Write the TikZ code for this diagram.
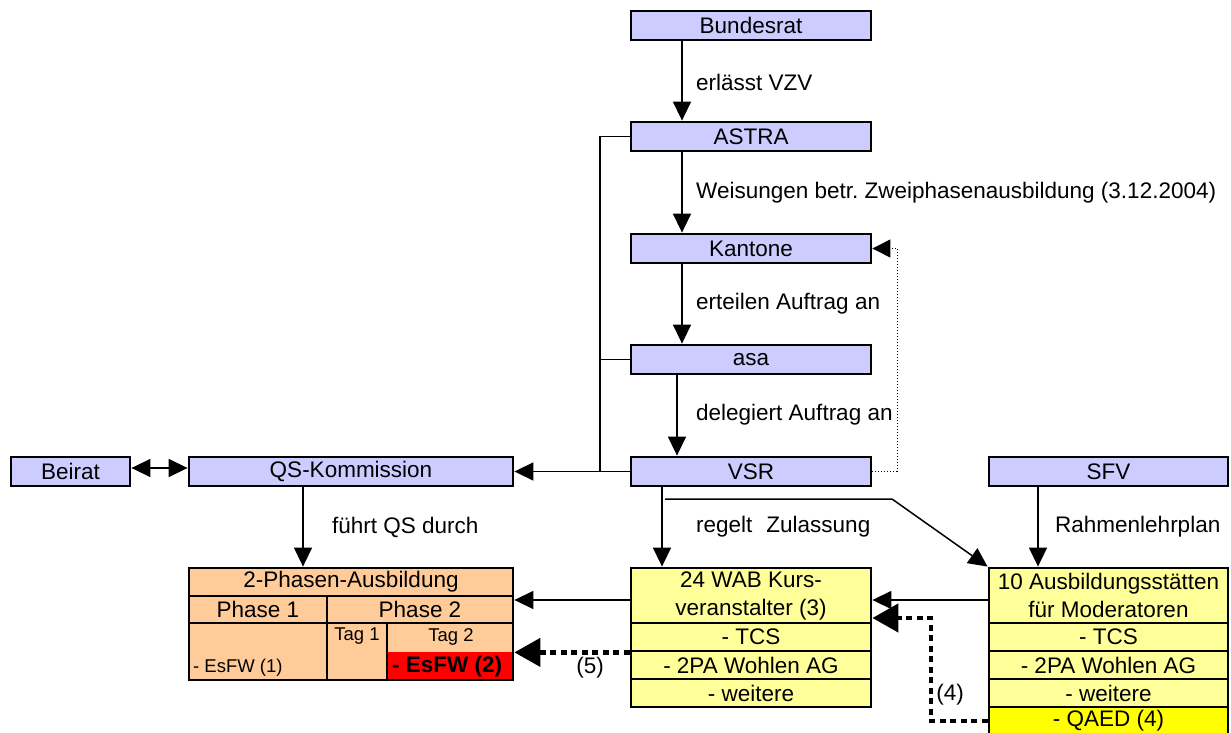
\documentclass[tikz,border=0pt]{standalone}
\usepackage{fontspec}
\setmainfont{Liberation Sans}
\usetikzlibrary{arrows.meta}
\definecolor{lav}{HTML}{CCCCFF}
\definecolor{org}{HTML}{FFCC99}
\definecolor{yel}{HTML}{FFFF99}
\definecolor{yelq}{HTML}{FFFF00}
\definecolor{redc}{HTML}{FF0000}
\begin{document}
\frenchspacing
\begin{tikzpicture}[x=1pt,y=-1pt,
  bigfont/.style={font=\fontsize{22.5}{28}\selectfont},
  smallfont/.style={font=\fontsize{18.5}{22}\selectfont},
  box/.style={draw=black, line width=2.8pt, fill=lav, minimum height=29pt, inner sep=0pt, bigfont},
  cell/.style={draw=black, line width=2.8pt, inner sep=0pt, bigfont, align=center},
  conn/.style={line width=1.5pt},
  arr/.style={conn, -{Triangle[length=19pt,width=18pt]}},
  darr/.style={conn, >={Triangle[length=19pt,width=18pt]}, <->},
  dotl/.style={line width=1pt, dotted, -{Triangle[length=18pt,width=18pt]}},
  thickdot/.style={line width=4.5pt, dash pattern=on 6pt off 4.5pt, -{Triangle[length=26pt,width=28pt]}},
  lab/.style={anchor=west, inner sep=0pt, bigfont}
]
\useasboundingbox (0,0) rectangle (1231,733);
% upper chain
\node[box, minimum width=240pt] (bund) at (751,25.5) {Bundesrat};
\node[box, minimum width=240pt] (astra) at (751,136.5) {ASTRA};
\node[box, minimum width=240pt] (kant) at (751,248.5) {Kantone};
\node[box, minimum width=240pt] (asa) at (751,359.5) {asa};
\node[box, minimum width=240pt] (vsr) at (751,471.5) {VSR};
\node[box, minimum width=239pt] (sfv) at (1108.5,471.5) {SFV};
\node[box, minimum width=119pt] (beirat) at (70.5,471.5) {Beirat};
\node[box, minimum width=324pt] (qs) at (351,471.5) {QS-Kommission};
% 2-Phasen table
\node[cell, fill=org, minimum width=324pt, minimum height=28pt] (ph0) at (351,582) {2-Phasen-Ausbildung};
\node[cell, fill=org, minimum width=138pt, minimum height=27pt] (ph1) at (258,609.5) {Phase 1};
\node[cell, fill=org, minimum width=186pt, minimum height=27pt] (ph2) at (420,609.5) {Phase 2};
\node[cell, fill=org, minimum width=138pt, minimum height=57pt] (p1b) at (258,651.5) {};
\node[cell, fill=org, minimum width=60pt, minimum height=57pt] (tag1) at (357,651.5) {};
\node[cell, fill=org, minimum width=126pt, minimum height=57pt] (tag2) at (450,651.5) {};
\fill[redc] (388.4,652) rectangle (511.6,678.6);
\node[smallfont, anchor=north, inner sep=0pt] (t1) at (357,628) {Tag 1};
\node[smallfont, anchor=north, inner sep=0pt] (t2) at (451,628) {Tag 2};
\node[smallfont, anchor=west, inner sep=0pt] (e1) at (193,668) {- EsFW (1)};
\node[bigfont, anchor=west, inner sep=0pt] (e2) at (392,667) {\bfseries - EsFW (2)};
% WAB table
\node[cell, fill=yel, minimum width=240pt, minimum height=55pt] (wab1) at (751,595.5) {24 WAB Kurs-\\veranstalter (3)};
\node[cell, fill=yel, minimum width=240pt, minimum height=28pt] (wab2) at (751,637) {- TCS};
\node[cell, fill=yel, minimum width=240pt, minimum height=28pt] (wab3) at (751,665) {- 2PA Wohlen AG};
\node[cell, fill=yel, minimum width=240pt, minimum height=28pt] (wab4) at (751,693) {- weitere};
% Ausbildungsstaetten table
\node[cell, fill=yel, minimum width=239pt, minimum height=55pt] (aus1) at (1108.5,595.5) {10 Ausbildungsstätten\\für Moderatoren};
\node[cell, fill=yel, minimum width=239pt, minimum height=28pt] (aus2) at (1108.5,637) {- TCS};
\node[cell, fill=yel, minimum width=239pt, minimum height=28pt] (aus3) at (1108.5,665) {- 2PA Wohlen AG};
\node[cell, fill=yel, minimum width=239pt, minimum height=28pt] (aus4) at (1108.5,693) {- weitere};
\node[cell, fill=yelq, minimum width=239pt, minimum height=28pt] (qaed) at (1108.5,721) {- QAED (4)};
% helper coordinates
\coordinate (ax) at (682,0);
\coordinate (bx) at (677,0);
\coordinate (vx) at (662,0);
\coordinate (lx) at (600,0);
\coordinate (dx) at (897,0);
\coordinate (sx) at (1038,0);
\coordinate (qx) at (303,0);
\coordinate (kx) at (931,0);
\coordinate (hy) at (0,600);
\coordinate (gy) at (0,618);
\coordinate (by) at (0,468);
\coordinate (br) at (665,499);
\coordinate (bk) at (892,499);
% connectors
\draw[arr] (bund.south -| ax) -- (astra.north -| ax);
\draw[arr] (astra.south -| ax) -- (kant.north -| ax);
\draw[arr] (kant.south -| ax) -- (asa.north -| ax);
\draw[arr] (asa.south -| bx) -- (vsr.north -| bx);
\draw[conn] (astra.west) -| (lx |- vsr.west);
\draw[conn] (asa.west) -- (asa.west -| lx);
\draw[arr] (vsr.west) -- (qs.east);
\draw[dotl] (vsr.east) -| (dx |- kant.east) -- (kant.east);
\draw[arr] (vsr.south -| vx) -- (wab1.north -| vx);
\draw[conn, -{Triangle[length=19pt,width=18pt]}] (br) -- (bk) -- (aus1.north west);
\draw[arr] (sfv.south -| sx) -- (aus1.north -| sx);
\draw[arr] (qs.south -| qx) -- (ph0.north -| qx);
\draw[darr] (beirat.east |- by) -- (qs.west |- by);
\draw[arr] (wab1.west |- hy) -- (ph2.east |- hy);
\draw[arr] (aus1.west |- hy) -- (wab1.east |- hy);
\draw[thickdot] (wab2.south west) -- (tag2.east |- wab2.south west);
\draw[thickdot] (qaed.west) -| (kx |- gy) -- (wab1.east |- gy);
% labels
\node[lab] (l1) at (696,82) {erlässt VZV};
\node[lab] (l2) at (696,193) {Weisungen betr. Zweiphasenausbildung (3.12.2004)};
\node[lab] (l3) at (696,304) {erteilen Auftrag an};
\node[lab] (l4) at (696,415) {delegiert Auftrag an};
\node[lab] (l5) at (332,527) {führt QS durch};
\node[lab] (l6) at (696,527) {regelt\hspace{14pt}Zulassung};
\node[lab] (l7) at (1055,527) {Rahmenlehrplan};
\node[bigfont, inner sep=0pt] (n5) at (590,668) {(5)};
\node[bigfont, inner sep=0pt] (n4) at (950,695) {(4)};
\end{tikzpicture}
\end{document}
